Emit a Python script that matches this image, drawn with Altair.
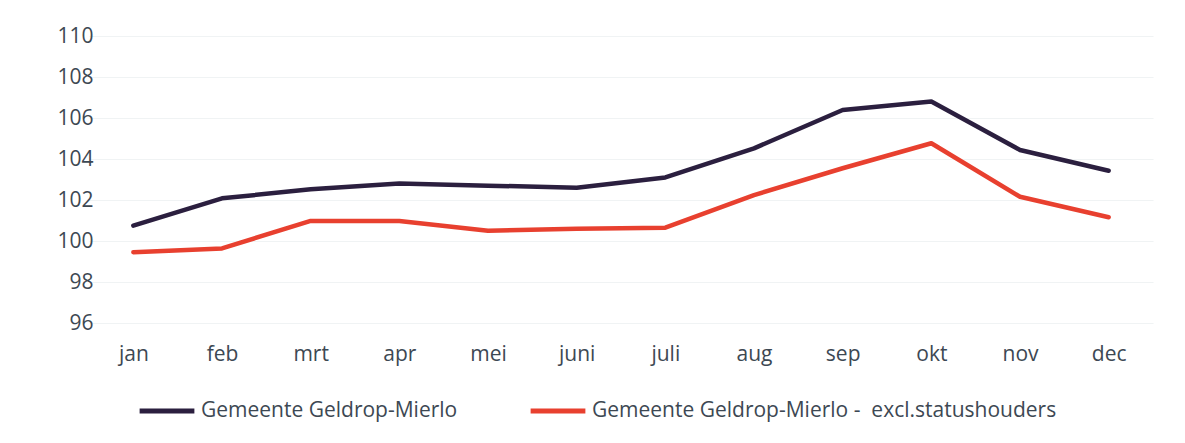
import altair as alt
import pandas as pd

months = ["jan", "feb", "mrt", "apr", "mei", "juni", "juli", "aug", "sep", "okt", "nov", "dec"]
series_names = ["Gemeente Geldrop-Mierlo", "Gemeente Geldrop-Mierlo -\u00a0 excl.statushouders"]
total = [100.75, 102.08, 102.52, 102.81, 102.7, 102.6, 103.1, 104.52, 106.39, 106.8, 104.44, 103.43]
excl = [99.45, 99.64, 100.98, 100.98, 100.5, 100.6, 100.65, 102.24, 103.55, 104.77, 102.16, 101.16]
y_ticks = [96, 98, 100, 102, 104, 106, 108, 110]
colors = ["#2b1f3f", "#e8402f"]

rows = []
for m, a, b in zip(months, total, excl):
    rows.append({"maand": m, "serie": series_names[0], "waarde": a})
    rows.append({"maand": m, "serie": series_names[1], "waarde": b})
df = pd.DataFrame(rows)

font = "Open Sans"
text_color = "#3d4853"
fs = 21

chart = alt.Chart(df).mark_line(strokeWidth=4.5, strokeCap="round", strokeJoin="round").encode(
    x=alt.X("maand:N", sort=months, title=None,
            scale=alt.Scale(type="point", padding=0.5),
            axis=alt.Axis(labelAngle=0, domain=False, ticks=False, grid=False,
                          labelPadding=20, labelFontSize=fs, labelColor=text_color, labelFont=font)),
    y=alt.Y("waarde:Q", title=None,
            scale=alt.Scale(domain=[96, 110], nice=False, zero=False),
            axis=alt.Axis(values=y_ticks, domain=False, ticks=False, grid=True,
                          gridColor="#f0f3f4", gridWidth=1.2,
                          labelPadding=-4, labelFontSize=fs, labelColor=text_color, labelFont=font)),
    color=alt.Color("serie:N", sort=series_names,
                    scale=alt.Scale(domain=series_names, range=colors),
                    legend=alt.Legend(title=None, orient="none", direction="horizontal",
                                      legendX=48, legendY=345,
                                      symbolType="stroke", symbolSize=3000, symbolStrokeWidth=5,
                                      labelFontSize=fs, labelColor=text_color, labelFont=font,
                                      labelLimit=700, columnPadding=62, labelOffset=4)),
).properties(
    width=1064,
    height=287,
    padding={"left": 81, "top": 28, "right": 24, "bottom": 112},
    autosize=alt.AutoSizeParams(type="none"),
    background="white",
).configure_view(stroke=None)

chart.save("out.html", embed_options={"renderer": "svg", "actions": False})
